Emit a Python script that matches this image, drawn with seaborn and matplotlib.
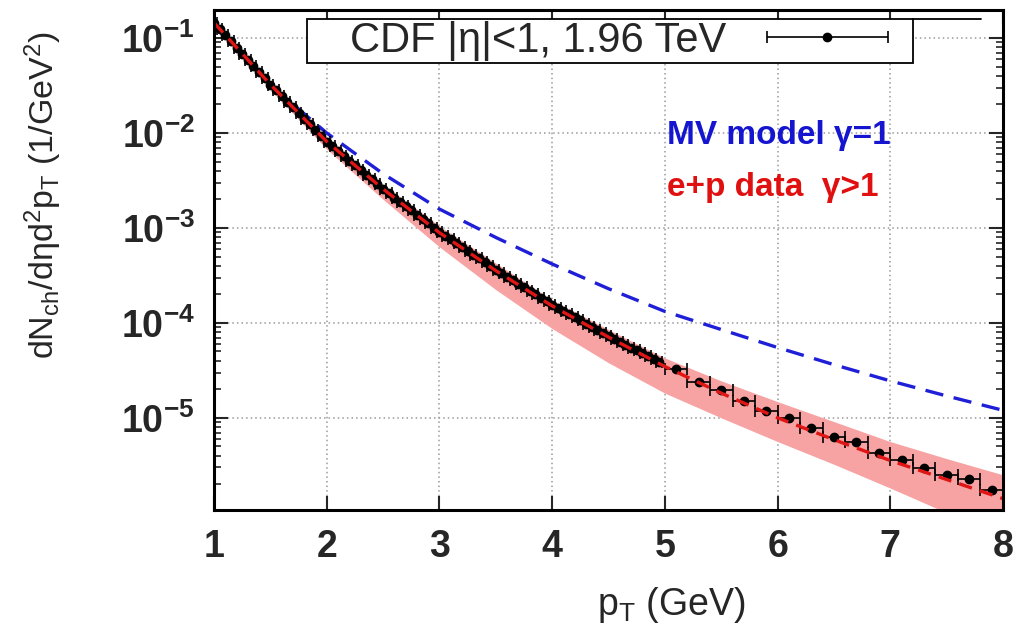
import matplotlib
matplotlib.use("Agg")
import matplotlib.pyplot as plt
import seaborn as sns
import pandas as pd
from matplotlib.patches import Rectangle
from matplotlib.container import ErrorbarContainer
from matplotlib.legend_handler import HandlerErrorbar
from matplotlib.ticker import FixedLocator, FixedFormatter, LogLocator, NullFormatter

# ---- CDF |eta|<1, 1.96 TeV data ----
cdf_pt = [1.00, 1.05, 1.10, 1.15, 1.20, 1.25, 1.30, 1.35, 1.40, 1.45,
          1.50, 1.55, 1.60, 1.65, 1.70, 1.75, 1.80, 1.85, 1.90, 1.95,
          2.00, 2.05, 2.10, 2.15, 2.20, 2.25, 2.30, 2.35, 2.40, 2.45,
          2.50, 2.55, 2.60, 2.65, 2.70, 2.75, 2.80, 2.85, 2.90, 2.95,
          3.00, 3.05, 3.10, 3.15, 3.20, 3.25, 3.30, 3.35, 3.40, 3.45,
          3.50, 3.55, 3.60, 3.65, 3.70, 3.75, 3.80, 3.85, 3.90, 3.95,
          4.00, 4.05, 4.10, 4.15, 4.20, 4.25, 4.30, 4.35, 4.40, 4.45,
          4.50, 4.55, 4.60, 4.65, 4.70, 4.75, 4.80, 4.85, 4.90, 4.95,
          5.1, 5.3, 5.5, 5.7, 5.9, 6.1, 6.3, 6.5, 6.7, 6.9,
          7.1, 7.3, 7.5, 7.7, 7.9]
cdf_pt_err = [0.025] * 80 + [0.1] * 15
cdf_yield = [1.445e-1, 1.245e-1, 1.072e-1, 9.23e-2, 7.94e-2, 6.84e-2, 5.89e-2, 5.07e-2, 4.37e-2, 3.76e-2,
             3.24e-2, 2.82e-2, 2.45e-2, 2.14e-2, 1.86e-2, 1.62e-2, 1.41e-2, 1.23e-2, 1.07e-2, 9.33e-3,
             8.13e-3, 7.24e-3, 6.46e-3, 5.75e-3, 5.13e-3, 4.57e-3, 4.07e-3, 3.63e-3, 3.24e-3, 2.88e-3,
             2.57e-3, 2.32e-3, 2.09e-3, 1.88e-3, 1.70e-3, 1.53e-3, 1.38e-3, 1.245e-3, 1.12e-3, 1.01e-3,
             9.12e-4, 8.32e-4, 7.59e-4, 6.92e-4, 6.31e-4, 5.75e-4, 5.25e-4, 4.79e-4, 4.37e-4, 3.98e-4,
             3.63e-4, 3.33e-4, 3.05e-4, 2.80e-4, 2.57e-4, 2.37e-4, 2.19e-4, 2.01e-4, 1.84e-4, 1.69e-4,
             1.55e-4, 1.44e-4, 1.33e-4, 1.24e-4, 1.15e-4, 1.06e-4, 9.77e-5, 9.07e-5, 8.41e-5, 7.81e-5,
             7.24e-5, 6.76e-5, 6.31e-5, 5.89e-5, 5.50e-5, 5.13e-5, 4.79e-5, 4.47e-5, 4.17e-5, 3.89e-5,
             3.24e-5, 2.40e-5, 1.97e-5, 1.51e-5, 1.17e-5, 1.00e-5, 7.85e-6, 6.31e-6, 5.50e-6, 4.27e-6,
             3.63e-6, 2.95e-6, 2.51e-6, 2.29e-6, 1.74e-6]

# ---- model curves ----
curve_pt = [1.0, 1.5, 2.0, 2.5, 3.0, 3.5, 4.0, 4.5, 5.0, 5.5, 6.0, 6.5, 7.0, 7.5, 8.0]
ep_center = [1.45e-1, 3.24e-2, 8.13e-3, 2.57e-3, 8.91e-4, 3.55e-4, 1.51e-4, 7.08e-5,
             3.47e-5, 1.82e-5, 1.00e-5, 5.89e-6, 3.55e-6, 2.24e-6, 1.41e-6]
ep_upper = [1.58e-1, 3.55e-2, 8.91e-3, 2.88e-3, 1.05e-3, 4.27e-4, 1.74e-4, 8.51e-5,
            4.27e-5, 2.45e-5, 1.48e-5, 9.12e-6, 5.62e-6, 3.72e-6, 2.51e-6]
ep_lower = [1.30e-1, 2.88e-2, 6.76e-3, 2.00e-3, 6.31e-4, 2.24e-4, 8.71e-5, 3.80e-5,
            1.82e-5, 1.00e-5, 5.62e-6, 3.24e-6, 1.82e-6, 1.00e-6, 5.37e-7]
mv_curve = [1.35e-1, 3.20e-2, 1.00e-2, 3.72e-3, 1.58e-3, 7.94e-4, 4.17e-4, 2.29e-4,
            1.32e-4, 8.51e-5, 5.50e-5, 3.63e-5, 2.45e-5, 1.70e-5, 1.20e-5]

y_ticks = [1e-5, 1e-4, 1e-3, 1e-2, 1e-1]
y_tick_labels = [r'$\mathbf{10^{-5}}$', r'$\mathbf{10^{-4}}$', r'$\mathbf{10^{-3}}$',
                 r'$\mathbf{10^{-2}}$', r'$\mathbf{10^{-1}}$']
x_ticks = [1, 2, 3, 4, 5, 6, 7, 8]

curves = pd.DataFrame({"pt": curve_pt, "center": ep_center, "upper": ep_upper,
                       "lower": ep_lower, "mv": mv_curve})

sns.set_theme(style="ticks")
plt.rcParams['font.family'] = ['Liberation Sans', 'DejaVu Sans']
plt.rcParams['mathtext.fontset'] = 'custom'
plt.rcParams['mathtext.rm'] = 'Liberation Sans'
plt.rcParams['mathtext.it'] = 'Liberation Sans:italic'
plt.rcParams['mathtext.bf'] = 'Liberation Sans:bold'

fig = plt.figure(figsize=(10.21, 6.3), dpi=100)
ax = fig.add_axes([0.2096, 0.1905, 0.7728, 0.7935])
ax.set_yscale('log')

ax.fill_between(curves["pt"], curves["lower"], curves["upper"], color='#f7a3a3', lw=0, zorder=1)
sns.lineplot(data=curves, x="pt", y="mv", ax=ax, color='#1f1fd8', lw=2.4,
             linestyle=(0, (5.5, 3.2)), zorder=2)
ax.errorbar(cdf_pt, cdf_yield, xerr=cdf_pt_err, fmt='o', color='black', ms=6,
            capsize=4, elinewidth=1.2, capthick=1.2, zorder=3,
            label='CDF |η|<1, 1.96 TeV')
sns.lineplot(data=curves, x="pt", y="center", ax=ax, color='#e01515', lw=2.4,
             linestyle=(0, (4, 2.5)), zorder=4)

ax.set_xlim(1, 8)
ax.set_ylim(1.07e-6, 0.197)

ax.xaxis.set_major_locator(FixedLocator(x_ticks))
ax.yaxis.set_major_locator(FixedLocator(y_ticks))
ax.yaxis.set_major_formatter(FixedFormatter(y_tick_labels))
ax.yaxis.set_minor_locator(LogLocator(base=10, subs=[2, 3, 4, 5, 6, 7, 8, 9], numticks=20))
ax.yaxis.set_minor_formatter(NullFormatter())

ax.tick_params(axis='both', which='major', direction='in', length=10, width=1.5,
               top=True, right=True, pad=14)
ax.tick_params(axis='y', which='minor', direction='in', length=5, width=1.2,
               left=True, right=True)
for lab in ax.get_xticklabels():
    lab.set_fontsize(27)
    lab.set_fontweight('bold')
for lab in ax.get_yticklabels():
    lab.set_fontsize(27)

ax.grid(True, which='major', color='#9a9a9a', linestyle=(0, (1, 2)), lw=1.1)
for sp in ax.spines.values():
    sp.set_linewidth(2.2)
    sp.set_color('black')
    sp.set_zorder(6)

ax.set_xlabel(r'p$_\mathregular{T}$ (GeV)', fontsize=27)
ax.set_ylabel(r'dN$_\mathregular{ch}$/dηd$^\mathregular{2}$p$_\mathregular{T}$ (1/GeV$^\mathregular{2}$)',
              fontsize=24.5)
ax.xaxis.set_label_coords(0.58, -0.15)
ax.yaxis.set_label_coords(-0.19, 0.63)

# legend: key box as in the original (text first, sample after)
ax.add_patch(Rectangle((0.118, 0.894), 0.768, 0.088, transform=ax.transAxes,
                       facecolor='white', edgecolor='black', lw=1.3, zorder=7, clip_on=False))
leg = ax.legend(loc='center left', bbox_to_anchor=(0.1724, 0.938), borderaxespad=0,
                markerfirst=False, frameon=False, fontsize=30, numpoints=1,
                handlelength=2.95, handletextpad=0.95, borderpad=0,
                handler_map={ErrorbarContainer: HandlerErrorbar(xerr_size=1.45)})
leg.set_zorder(8)
ax.plot([0.886, 0.972], [0.982, 0.982], transform=ax.transAxes, color='black', lw=1.3,
        clip_on=False, zorder=7)

ax.text(0.574, 0.75, 'MV model γ=1', transform=ax.transAxes, color='#1515d0',
        fontsize=24, fontweight='bold', va='center', ha='left')
ax.text(0.574, 0.646, 'e+p data  γ>1', transform=ax.transAxes, color='#e01010',
        fontsize=24, fontweight='bold', va='center', ha='left')

fig.savefig('out.png', dpi=100)
